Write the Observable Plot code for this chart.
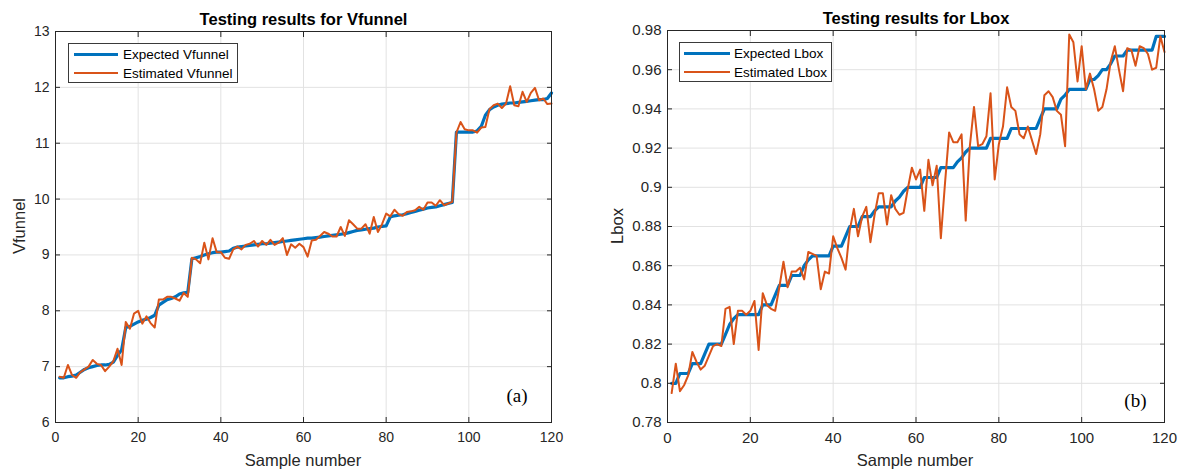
<!DOCTYPE html>
<html><head><meta charset="utf-8">
<script src="https://cdn.jsdelivr.net/npm/d3@7"></script>
<script src="https://cdn.jsdelivr.net/npm/@observablehq/plot@0.6"></script>
<style>
body{margin:0;background:#fff;width:1185px;height:470px;position:relative;overflow:hidden;font-family:"Liberation Sans",Arial,sans-serif;}
.abs{position:absolute;}
.title{font-weight:bold;font-size:16.5px;color:#000;white-space:nowrap;transform:translate(-50%,-50%);}
.xlabel{font-size:16.5px;color:#262626;white-space:nowrap;transform:translate(-50%,-50%);}
.ylabel{font-size:16.5px;color:#262626;white-space:nowrap;transform:translate(-50%,-50%) rotate(-90deg);}
.legend{border:1px solid #3a3a3a;background:#fff;box-sizing:border-box;}
.sw{position:absolute;}
.lt{position:absolute;font-size:13.5px;color:#000;white-space:nowrap;transform:translateY(-50%);}
</style>
</head><body>
<div id="chart"></div>
<script>
// ---------- data ----------
const sampleNumber = d3.range(1, 121);

const expectedVfunnel = [
  6.80,6.80,6.82,6.83,6.85,6.90,6.95,6.98,7.00,7.02,
  7.03,7.03,7.04,7.08,7.20,7.30,7.70,7.72,7.76,7.80,
  7.83,7.85,7.88,7.92,8.10,8.15,8.20,8.22,8.25,8.30,
  8.32,8.33,8.93,8.95,8.97,9.00,9.02,9.04,9.05,9.05,
  9.06,9.07,9.12,9.14,9.15,9.16,9.17,9.18,9.19,9.20,
  9.20,9.21,9.22,9.23,9.24,9.25,9.26,9.27,9.28,9.29,
  9.30,9.30,9.31,9.32,9.33,9.34,9.35,9.36,9.37,9.38,
  9.40,9.42,9.44,9.45,9.46,9.47,9.48,9.50,9.51,9.52,
  9.68,9.70,9.71,9.72,9.74,9.76,9.78,9.80,9.82,9.84,
  9.85,9.86,9.88,9.90,9.92,9.94,11.20,11.20,11.20,11.20,
  11.20,11.22,11.30,11.50,11.60,11.65,11.68,11.70,11.71,11.72,
  11.72,11.73,11.74,11.75,11.76,11.77,11.78,11.78,11.80,11.90
];
const estimatedVfunnel = [
  6.82,6.80,7.03,6.85,6.80,6.90,6.95,7.00,7.12,7.05,
  7.03,6.92,7.00,7.10,7.32,7.03,7.80,7.68,7.95,8.00,
  7.77,7.90,7.78,7.70,8.20,8.20,8.25,8.25,8.22,8.18,
  8.32,8.25,8.95,8.92,8.85,9.22,8.92,9.30,9.05,9.05,
  8.95,8.93,9.10,9.15,9.10,9.18,9.20,9.25,9.15,9.25,
  9.18,9.27,9.18,9.22,9.30,9.00,9.19,9.13,9.20,9.14,
  8.97,9.26,9.27,9.34,9.41,9.38,9.33,9.33,9.50,9.34,
  9.62,9.55,9.47,9.47,9.55,9.38,9.68,9.41,9.55,9.74,
  9.69,9.81,9.73,9.70,9.77,9.78,9.80,9.86,9.81,9.94,
  9.94,9.88,9.98,9.89,9.92,9.95,11.19,11.38,11.25,11.23,
  11.23,11.19,11.28,11.29,11.61,11.68,11.71,11.63,11.71,12.02,
  11.68,11.66,11.92,11.74,11.90,11.99,11.77,11.80,11.70,11.71
];

const expectedLbox = [
  0.800,0.800,0.805,0.805,0.805,0.810,0.810,0.810,0.815,0.820,
  0.820,0.820,0.820,0.825,0.830,0.833,0.835,0.835,0.835,0.835,
  0.835,0.835,0.840,0.840,0.840,0.845,0.850,0.850,0.850,0.855,
  0.855,0.855,0.860,0.863,0.865,0.865,0.865,0.865,0.865,0.870,
  0.870,0.870,0.875,0.880,0.880,0.880,0.885,0.885,0.885,0.888,
  0.890,0.890,0.890,0.890,0.893,0.895,0.898,0.900,0.900,0.900,
  0.900,0.905,0.905,0.905,0.905,0.910,0.910,0.910,0.910,0.913,
  0.915,0.918,0.920,0.920,0.920,0.920,0.920,0.925,0.925,0.925,
  0.925,0.925,0.930,0.930,0.930,0.930,0.930,0.930,0.930,0.935,
  0.940,0.940,0.940,0.940,0.945,0.947,0.950,0.950,0.950,0.950,
  0.950,0.955,0.955,0.957,0.960,0.960,0.963,0.967,0.967,0.967,
  0.970,0.970,0.970,0.970,0.970,0.970,0.970,0.977,0.977,0.977
];
const estimatedLbox = [
  0.795,0.810,0.796,0.799,0.804,0.816,0.811,0.807,0.809,0.814,
  0.819,0.820,0.819,0.838,0.839,0.820,0.837,0.837,0.835,0.837,
  0.842,0.817,0.846,0.840,0.838,0.837,0.849,0.862,0.849,0.857,
  0.857,0.859,0.853,0.867,0.866,0.865,0.848,0.857,0.856,0.875,
  0.869,0.864,0.858,0.878,0.889,0.875,0.885,0.890,0.872,0.886,
  0.897,0.897,0.881,0.896,0.889,0.886,0.887,0.899,0.910,0.904,
  0.909,0.888,0.914,0.901,0.911,0.874,0.902,0.928,0.923,0.923,
  0.927,0.883,0.921,0.941,0.921,0.922,0.926,0.948,0.904,0.922,
  0.931,0.951,0.941,0.939,0.927,0.925,0.931,0.924,0.917,0.927,
  0.947,0.949,0.946,0.939,0.937,0.921,0.978,0.974,0.954,0.972,
  0.950,0.958,0.950,0.939,0.941,0.950,0.964,0.972,0.960,0.949,
  0.971,0.970,0.962,0.972,0.971,0.968,0.960,0.961,0.977,0.969
];

const xTicks = [0, 20, 40, 60, 80, 100, 120];
const vfunnelTicks = [6, 7, 8, 9, 10, 11, 12, 13];
const lboxTicks = [0.78, 0.8, 0.82, 0.84, 0.86, 0.88, 0.9, 0.92, 0.94, 0.96, 0.98];

const panelsInfo = [
  {title: "Testing results for Vfunnel", ylabel: "Vfunnel", tag: "(a)",
   expName: "Expected Vfunnel", estName: "Estimated Vfunnel",
   expected: expectedVfunnel, estimated: estimatedVfunnel, yTicks: vfunnelTicks, yDomain: [6, 13]},
  {title: "Testing results for Lbox", ylabel: "Lbox", tag: "(b)",
   expName: "Expected Lbox", estName: "Estimated Lbox",
   expected: expectedLbox, estimated: estimatedLbox, yTicks: lboxTicks, yDomain: [0.78, 0.98]}
];

// ---------- layout ----------
const layouts = [
  {left: 0, width: 592, ml: 55, mr: 41, mt: 31, mb: 48, fs: 14,
   titleX: 303.5, titleY: 19, xlabX: 303, xlabY: 460, ylabX: 19, ylabY: 226,
   tagDx: -24, tagDy: -27,
   leg: {left: 68, top: 43, w: 170, h: 40, swL: 5, swW: 44, txtL: 54}},
  {left: 600, width: 585, ml: 67, mr: 21, mt: 30, mb: 48, fs: 15,
   titleX: 916, titleY: 18, xlabX: 915, xlabY: 460, ylabX: 617, ylabY: 226,
   tagDx: -18, tagDy: -22,
   leg: {left: 679, top: 42, w: 153, h: 40, swL: 4, swW: 46, txtL: 54}}
];

const root = document.getElementById("chart");
const BLUE = "#0072BD", ORANGE = "#D95319", GRID = "#e2e2e2", AX = "#262626";

panelsInfo.forEach((p, k) => {
  const L = layouts[k];
  const rows = sampleNumber.map((n, i) => ({n, expected: p.expected[i], estimated: p.estimated[i]}));
  const fmt = d => String(d);
  const chart = Plot.plot({
    width: L.width, height: 470,
    marginLeft: L.ml, marginRight: L.mr, marginTop: L.mt, marginBottom: L.mb,
    style: {fontFamily: "'Liberation Sans', Arial, sans-serif", fontSize: L.fs + "px", color: AX, background: "transparent", overflow: "visible"},
    x: {domain: [0, 120]},
    y: {domain: p.yDomain},
    marks: [
      Plot.gridX(xTicks, {stroke: GRID, strokeOpacity: 1}),
      Plot.gridY(p.yTicks, {stroke: GRID, strokeOpacity: 1}),
      Plot.line(rows, {x: "n", y: "expected", stroke: BLUE, strokeWidth: 3.2}),
      Plot.line(rows, {x: "n", y: "estimated", stroke: ORANGE, strokeWidth: 2}),
      Plot.frame({stroke: AX, strokeWidth: 1}),
      Plot.axisX(xTicks, {anchor: "bottom", tickSize: 0, tickPadding: 10, tickFormat: fmt, label: null}),
      Plot.axisY(p.yTicks, {anchor: "left", tickSize: 0, tickPadding: 6, tickFormat: fmt, label: null}),
      Plot.axisX(xTicks, {anchor: "bottom", tickSize: -5, tickFormat: () => "", label: null}),
      Plot.axisX(xTicks, {anchor: "top", tickSize: -5, tickFormat: () => "", label: null}),
      Plot.axisY(p.yTicks, {anchor: "left", tickSize: -5, tickFormat: () => "", label: null}),
      Plot.axisY(p.yTicks, {anchor: "right", tickSize: -5, tickFormat: () => "", label: null}),
      Plot.text([p.tag], {frameAnchor: "bottom-right", textAnchor: "end", lineAnchor: "middle",
        dx: L.tagDx, dy: L.tagDy, fontFamily: "'Liberation Serif', 'Times New Roman', serif", fontSize: 19, fill: "#000"})
    ]
  });
  chart.style.position = "absolute";
  chart.style.left = L.left + "px";
  chart.style.top = "0px";
  root.appendChild(chart);

  const t = document.createElement("div");
  t.className = "abs title"; t.textContent = p.title;
  t.style.left = L.titleX + "px"; t.style.top = L.titleY + "px";
  document.body.appendChild(t);

  const xl = document.createElement("div");
  xl.className = "abs xlabel"; xl.textContent = "Sample number";
  xl.style.left = L.xlabX + "px"; xl.style.top = L.xlabY + "px";
  document.body.appendChild(xl);

  const yl = document.createElement("div");
  yl.className = "abs ylabel"; yl.textContent = p.ylabel;
  yl.style.left = L.ylabX + "px"; yl.style.top = L.ylabY + "px";
  document.body.appendChild(yl);

  const g = L.leg;
  const leg = document.createElement("div");
  leg.className = "abs legend";
  leg.style.left = g.left + "px"; leg.style.top = g.top + "px";
  leg.style.width = g.w + "px"; leg.style.height = g.h + "px";
  [[p.expName, BLUE, 3, 10], [p.estName, ORANGE, 2, 29]].forEach(([name, col, sw, cy]) => {
    const s = document.createElement("div");
    s.className = "sw";
    s.style.left = g.swL + "px"; s.style.width = g.swW + "px";
    s.style.top = (cy - sw / 2) + "px"; s.style.height = sw + "px"; s.style.background = col;
    leg.appendChild(s);
    const tx = document.createElement("div");
    tx.className = "lt"; tx.textContent = name;
    tx.style.left = g.txtL + "px"; tx.style.top = cy + "px";
    leg.appendChild(tx);
  });
  document.body.appendChild(leg);
});
</script>
</body></html>
